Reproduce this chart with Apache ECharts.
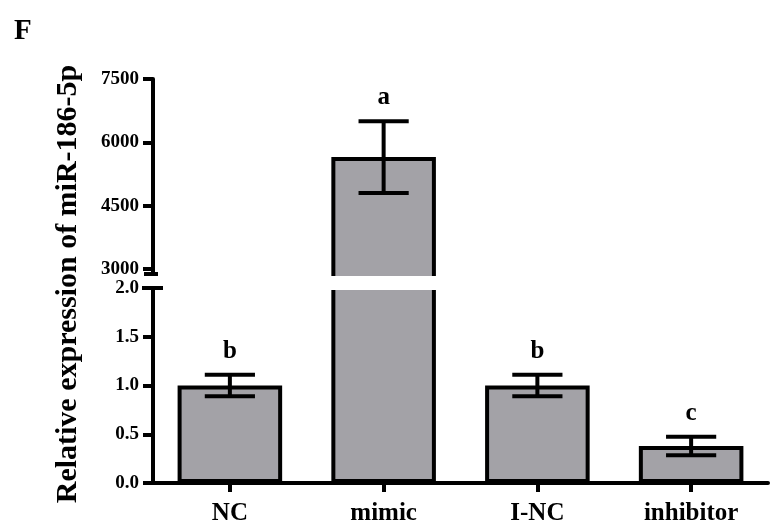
<!DOCTYPE html>
<html>
<head>
<meta charset="utf-8">
<script src="https://cdn.jsdelivr.net/npm/echarts@6/dist/echarts.min.js"></script>
<style>
html,body{margin:0;padding:0;background:#fff;}
#chart{width:776px;height:527px;}
</style>
</head>
<body>
<div id="chart"></div>
<script>
// ---- data ----
const categories = ['NC', 'mimic', 'I-NC', 'inhibitor'];
const means = [1.0, 5650, 1.0, 0.38];
const errors = [0.11, 850, 0.11, 0.095];
const letters = ['b', 'a', 'b', 'c'];
const upperTickValues = [3000, 4500, 6000, 7500];
const lowerMax = 2.0;
const lowerInterval = 0.5;
const upperMax = 7500;
const upperMin = 2692;   // axis start a little below the 3000 tick (break region)
const yTitle = 'Relative expression of miR-186-5p';
const panelLetter = 'F';

// ---- style ----
const FONT = '"Liberation Serif", "Times New Roman", serif';
const BAR_COLOR = '#a3a2a7';
const LW = 4;

const chart = echarts.init(document.getElementById('chart'), null, { renderer: 'canvas' });

const upperIdx = [], lowerIdx = [];
means.forEach((m, i) => (m > lowerMax ? upperIdx : lowerIdx).push(i));

function errRender(params, api) {
  const i = api.value(0);
  const m = api.value(1);
  const e = api.value(2);
  const top = api.coord([i, m + e]);
  const bot = api.coord([i, m - e]);
  const band = api.size([1, 0])[0];
  const half = band * 0.68 * 0.24;
  const x = top[0];
  const style = { stroke: '#000', lineWidth: LW };
  return {
    type: 'group',
    children: [
      { type: 'line', shape: { x1: x, y1: top[1], x2: x, y2: bot[1] }, style },
      { type: 'line', shape: { x1: x - half, y1: top[1], x2: x + half, y2: top[1] }, style },
      { type: 'line', shape: { x1: x - half, y1: bot[1], x2: x + half, y2: bot[1] }, style },
      { type: 'text', x: x, y: top[1] - 11,
        style: { text: letters[i], font: 'bold 25px ' + FONT, fill: '#000', align: 'center', verticalAlign: 'bottom' } }
    ]
  };
}

const commonX = {
  type: 'category',
  data: categories,
  boundaryGap: true,
  axisLine: { show: true, lineStyle: { color: '#000', width: LW } },
  axisTick: { show: true, alignWithLabel: true, length: 9, lineStyle: { color: '#000', width: LW } },
  axisLabel: { show: true, color: '#000', fontFamily: FONT, fontWeight: 'bold', fontSize: 25, margin: 18 },
  splitLine: { show: false }
};

const option = {
  backgroundColor: '#fff',
  animation: false,
  grid: [
    { left: 153, right: 8, top: 79, bottom: 527 - 282 },
    { left: 153, right: 8, top: 288, bottom: 44 }
  ],
  xAxis: [
    Object.assign({}, commonX, { gridIndex: 0, show: false }),
    Object.assign({}, commonX, { gridIndex: 1 })
  ],
  yAxis: [
    {
      type: 'value', gridIndex: 0, min: upperMin, max: upperMax,
      axisLine: { show: true, lineStyle: { color: '#000', width: LW } },
      axisTick: { show: true, length: 10, customValues: upperTickValues, lineStyle: { color: '#000', width: LW } },
      axisLabel: { show: true, customValues: upperTickValues, color: '#000', fontFamily: FONT, fontWeight: 'bold', fontSize: 19, margin: 14,
        formatter: v => String(Math.round(v)) },
      splitLine: { show: false }
    },
    {
      type: 'value', gridIndex: 1, min: 0, max: lowerMax, interval: lowerInterval,
      axisLine: { show: true, lineStyle: { color: '#000', width: LW } },
      axisTick: { show: true, length: 10, lineStyle: { color: '#000', width: LW } },
      axisLabel: { show: true, color: '#000', fontFamily: FONT, fontWeight: 'bold', fontSize: 19, margin: 14,
        formatter: v => v.toFixed(1) },
      splitLine: { show: false }
    }
  ],
  series: [
    {
      type: 'bar', xAxisIndex: 0, yAxisIndex: 0, barWidth: '68%', clip: true,
      data: means.map((m, i) => (upperIdx.includes(i) ? m : '-')),
      itemStyle: { color: BAR_COLOR, borderColor: '#000', borderWidth: LW }
    },
    {
      type: 'bar', xAxisIndex: 1, yAxisIndex: 1, barWidth: '68%', clip: true,
      data: means.slice(),
      itemStyle: { color: BAR_COLOR, borderColor: '#000', borderWidth: LW }
    },
    {
      type: 'custom', xAxisIndex: 0, yAxisIndex: 0, renderItem: errRender, z: 5,
      data: upperIdx.map(i => [i, means[i], errors[i]])
    },
    {
      type: 'custom', xAxisIndex: 1, yAxisIndex: 1, renderItem: errRender, z: 5,
      data: lowerIdx.map(i => [i, means[i], errors[i]])
    }
  ]
};
chart.setOption(option);

// break decoration, placed from the axes' own scales
const y3000 = chart.convertToPixel({ yAxisIndex: 0 }, upperTickValues[0]);
const yLowerTop = chart.convertToPixel({ yAxisIndex: 1 }, lowerMax);
const breakTop = y3000 + 5;
chart.setOption({
  graphic: [
    { type: 'rect', z: 50, shape: { x: 140, y: breakTop + 2, width: 640, height: yLowerTop + 2 - breakTop - 2 },
      style: { fill: '#fff' } },
    { type: 'line', z: 51, shape: { x1: 144, y1: breakTop, x2: 158, y2: breakTop },
      style: { stroke: '#000', lineWidth: LW } },
    { type: 'line', z: 51, shape: { x1: 142, y1: yLowerTop, x2: 163, y2: yLowerTop },
      style: { stroke: '#000', lineWidth: LW } },
    { type: 'text', z: 52, x: 68, y: 284, rotation: Math.PI / 2,
      style: { text: yTitle, font: 'bold 30px ' + FONT, fill: '#000', align: 'center', verticalAlign: 'middle' } },
    { type: 'text', z: 52, x: 14, y: 17,
      style: { text: panelLetter, font: 'bold 29px ' + FONT, fill: '#000', align: 'left', verticalAlign: 'top' } }
  ]
});
</script>
</body>
</html>
